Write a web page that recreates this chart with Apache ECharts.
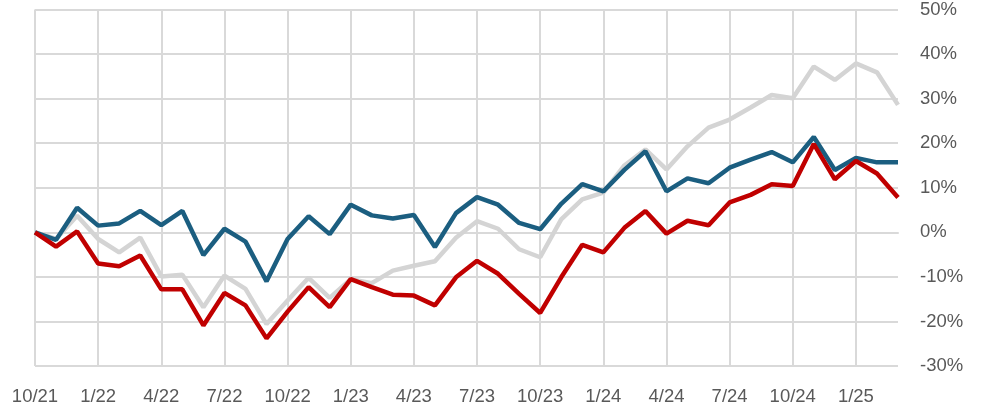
<!DOCTYPE html>
<html>
<head>
<meta charset="utf-8">
<script src="https://cdn.jsdelivr.net/npm/echarts@6/dist/echarts.min.js"></script>
<style>
html,body{margin:0;padding:0;background:#fff;}
#chart{width:984px;height:407px;}
</style>
</head>
<body>
<div id="chart"></div>
<script>
const categories = [
  "10/21","11/21","12/21","1/22","2/22","3/22","4/22","5/22","6/22","7/22","8/22","9/22",
  "10/22","11/22","12/22","1/23","2/23","3/23","4/23","5/23","6/23","7/23","8/23","9/23",
  "10/23","11/23","12/23","1/24","2/24","3/24","4/24","5/24","6/24","7/24","8/24","9/24",
  "10/24","11/24","12/24","1/25","2/25","3/25"
];
const blueSeries = [
  0, -1.7, 5.5, 1.5, 2.0, 4.8, 1.6, 4.8, -5.1, 0.8, -2.1, -11.0,
  -1.5, 3.6, -0.4, 6.2, 3.8, 3.1, 3.9, -3.3, 4.3, 7.9, 6.2, 2.1,
  0.7, 6.4, 10.8, 9.2, 14.0, 18.2, 9.2, 12.1, 11.0, 14.5, 16.3, 18.0,
  15.7, 21.4, 14.0, 16.7, 15.7, 15.7
];
const redSeries = [
  0, -3.2, 0.2, -7.0, -7.6, -5.2, -12.8, -12.8, -20.9, -13.6, -16.4, -23.8,
  -17.8, -12.3, -16.8, -10.5, -12.3, -14.0, -14.2, -16.4, -10.1, -6.4, -9.3, -13.8,
  -18.1, -10.1, -2.8, -4.5, 1.0, 4.8, -0.3, 2.6, 1.6, 6.7, 8.4, 10.8,
  10.4, 19.8, 11.9, 16.0, 13.2, 7.8
];
const graySeries = [
  0, -1.5, 3.7, -1.5, -4.5, -1.2, -9.9, -9.5, -16.8, -9.7, -12.7, -20.6,
  -15.3, -10.2, -14.7, -10.5, -11.4, -8.6, -7.5, -6.5, -1.2, 2.5, 0.8, -3.8,
  -5.6, 2.9, 7.4, 8.9, 15.0, 18.6, 14.1, 19.3, 23.5, 25.3, 28.0, 30.8,
  30.1, 37.2, 34.2, 37.9, 35.9, 28.6
];
const yTicks = { min: -30, max: 50, interval: 10 };

const chart = echarts.init(document.getElementById('chart'), null, {renderer: 'canvas'});
const gridColor = '#d9d9d9';
const labelColor = '#595959';
chart.setOption({
  animation: false,
  backgroundColor: '#ffffff',
  grid: { left: 35, right: 86, top: 7.5, bottom: 41, containLabel: false },
  xAxis: {
    type: 'category',
    data: categories,
    boundaryGap: false,
    axisLine: { show: true, lineStyle: { color: gridColor, width: 2 } },
    axisTick: { show: false },
    axisLabel: { interval: 2, color: labelColor, fontSize: 18.5, fontFamily: 'Liberation Sans, Arial, sans-serif', margin: 21 },
    splitLine: { show: true, interval: 2, lineStyle: { color: gridColor, width: 2 } }
  },
  yAxis: {
    type: 'value',
    position: 'right',
    min: yTicks.min, max: yTicks.max, interval: yTicks.interval,
    axisLine: { show: false },
    axisTick: { show: false },
    axisLabel: { color: labelColor, fontSize: 18.5, fontFamily: 'Liberation Sans, Arial, sans-serif', margin: 22, formatter: '{value}%' },
    splitLine: { show: true, lineStyle: { color: gridColor, width: 2 } }
  },
  series: [
    { name: 'Gray', type: 'line', data: graySeries, symbol: 'none', lineStyle: { color: '#d4d4d4', width: 4.5 }, itemStyle: { color: '#d4d4d4' } },
    { name: 'Blue', type: 'line', data: blueSeries, symbol: 'none', lineStyle: { color: '#1b5e80', width: 4.5 }, itemStyle: { color: '#1b5e80' } },
    { name: 'Red', type: 'line', data: redSeries, symbol: 'none', lineStyle: { color: '#c00000', width: 4.5 }, itemStyle: { color: '#c00000' } }
  ]
});
</script>
</body>
</html>
